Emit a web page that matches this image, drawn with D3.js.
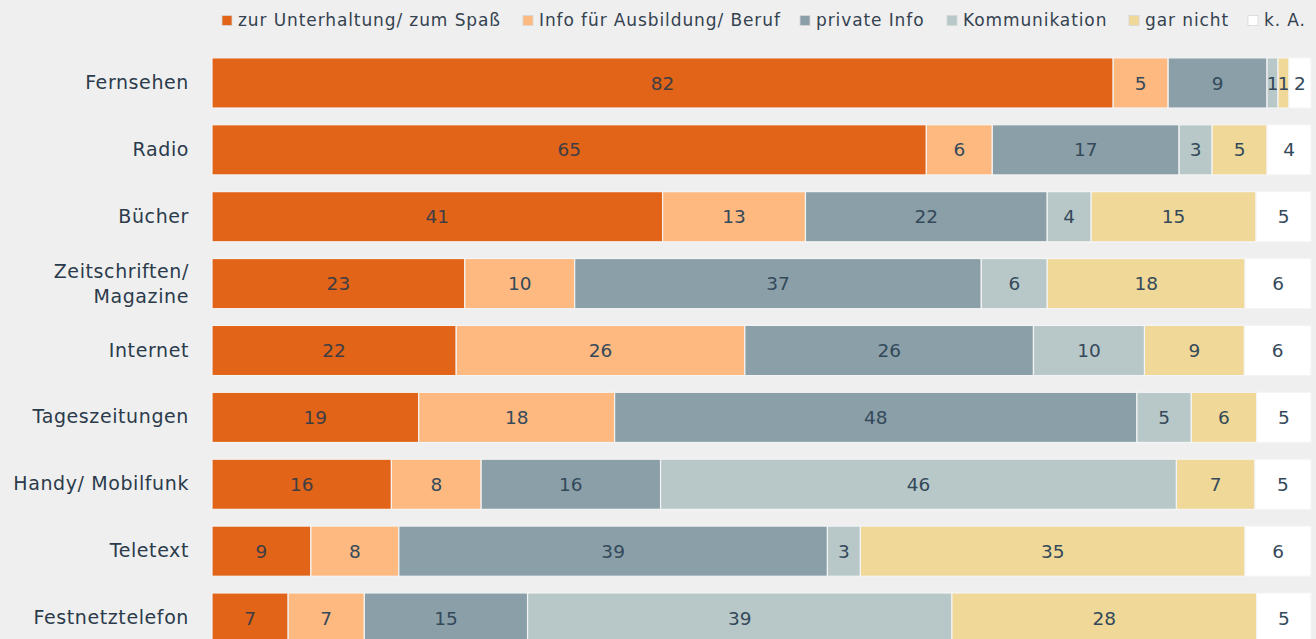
<!DOCTYPE html>
<html><head><meta charset="utf-8">
<script src="https://cdn.jsdelivr.net/npm/d3@7"></script>
<style>
html,body{margin:0;padding:0;background:#efefef;}
svg{display:block;}
</style></head>
<body>
<svg id="chart" width="1316" height="639"></svg>
<script>
const categories = ["Fernsehen","Radio","Bücher","Zeitschriften/\nMagazine","Internet","Tageszeitungen","Handy/ Mobilfunk","Teletext","Festnetztelefon"];
const seriesNames = ["zur Unterhaltung/ zum Spaß","Info für Ausbildung/ Beruf","private Info","Kommunikation","gar nicht","k. A."];
const unterhaltung = [82,65,41,23,22,19,16,9,7];
const ausbildung   = [5,6,13,10,26,18,8,8,7];
const privateInfo  = [9,17,22,37,26,48,16,39,15];
const kommunikation= [1,3,4,6,10,5,46,3,39];
const garNicht     = [1,5,15,18,9,6,7,35,28];
const kA           = [2,4,5,6,6,5,5,6,5];
const seriesValues = [unterhaltung,ausbildung,privateInfo,kommunikation,garNicht,kA];
const colors = ["#e26418","#fdb980","#8a9fa8","#b8c8c8","#f0d898","#ffffff"];

const svg = d3.select("#chart");
const x = d3.scaleLinear().domain([0,1]).range([212,1311]);
const y = d3.scaleBand().domain(categories).range([49.5,651.5]).paddingInner(0.25).paddingOuter(0.125);

const table = categories.map((c,i)=>{
  const o={cat:c};
  seriesNames.forEach((s,j)=>o[s]=seriesValues[j][i]);
  return o;
});
const stack = d3.stack().keys(seriesNames).offset(d3.stackOffsetExpand);
const layers = stack(table);

const FONT = "DejaVu Sans, Verdana, sans-serif";
const g = svg.append("g");
layers.forEach((layer,j)=>{
  const lg = g.append("g");
  lg.selectAll("rect").data(layer).join("rect")
    .attr("x",d=>x(d[0]))
    .attr("y",d=>y(d.data.cat))
    .attr("width",d=>Math.max(0,x(d[1])-x(d[0])))
    .attr("height",y.bandwidth())
    .attr("fill",colors[j])
    .attr("stroke","#f4f4f4")
    .attr("stroke-width",1.2);
  lg.selectAll("text").data(layer).join("text")
    .attr("x",d=>(x(d[0])+x(d[1]))/2)
    .attr("y",d=>y(d.data.cat)+y.bandwidth()/2)
    .attr("dy","0.36em")
    .attr("text-anchor","middle")
    .attr("font-family",FONT)
    .attr("font-size",18.5)
    .attr("fill",j===0?"#3e3e44":"#34495a")
    .text(d=>d.data[seriesNames[j]]);
});

// category axis
const yAxis = d3.axisLeft(y).tickSize(0).tickPadding(24);
const ag = svg.append("g").attr("transform","translate(212,0)").call(yAxis);
ag.select(".domain").remove();
ag.selectAll(".tick text")
  .attr("font-family",FONT)
  .attr("font-size",19)
  .attr("letter-spacing","0.6px")
  .attr("fill","#2b3b4b")
  .each(function(d){
    const lines = d.split("\n");
    const t = d3.select(this);
    t.text(null);
    if(lines.length===1){ t.append("tspan").attr("x",-23).attr("dy","0.32em").text(lines[0]); }
    else {
      lines.forEach((l,k)=>t.append("tspan").attr("x",-23).attr("dy",k===0?"-0.3em":"1.3em").text(l));
    }
  });

// legend
const legendX = [222,523,800,947,1129,1248];
const leg = svg.append("g");
seriesNames.forEach((s,j)=>{
  const it = leg.append("g").attr("transform",`translate(${legendX[j]},20.5)`);
  it.append("rect").attr("x",0).attr("y",-5).attr("width",10).attr("height",10)
    .attr("fill",colors[j]).attr("stroke","#d6d6d6").attr("stroke-width",0.8);
  it.append("text").attr("x",16).attr("y",0).attr("dy","0.35em")
    .attr("font-family",FONT)
    .attr("font-size",17).attr("letter-spacing","0.9px")
    .attr("fill","#34424f").text(s);
});
</script>
</body></html>
